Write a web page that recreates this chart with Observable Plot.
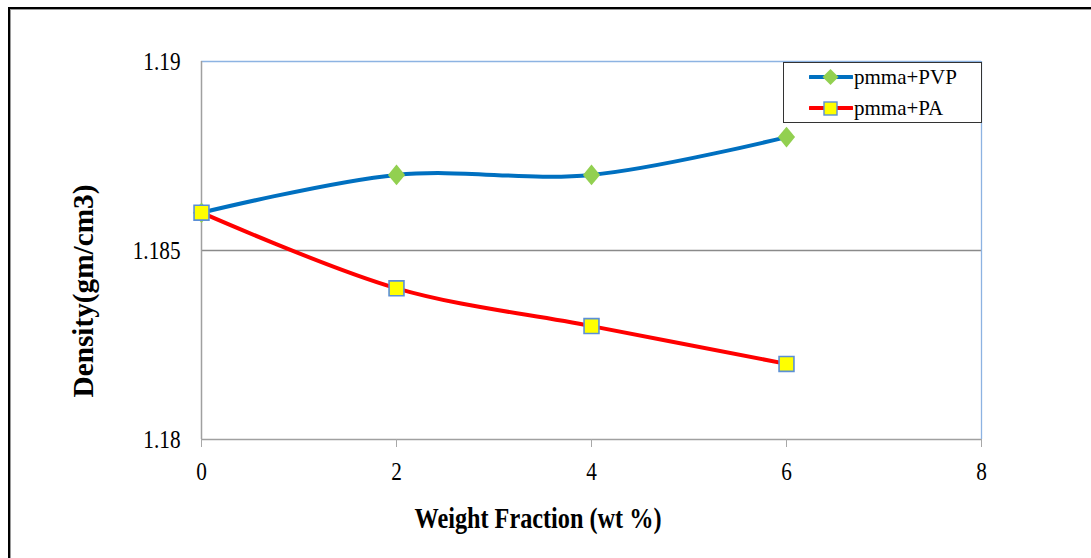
<!DOCTYPE html>
<html><head><meta charset="utf-8">
<script src="https://cdn.jsdelivr.net/npm/d3@7"></script>
<script src="https://cdn.jsdelivr.net/npm/@observablehq/plot@0.6"></script>
<style>
html,body{margin:0;padding:0;background:#fff;}
body{overflow:hidden;width:1091px;height:558px;position:relative;font-family:"Times New Roman","Liberation Serif",serif;}
#frame{position:absolute;left:8px;top:7px;width:2000px;height:2000px;border:2px solid #000;box-shadow:inset 1px 1px 0 #9a9a9a;}
#chart{position:absolute;left:0;top:0;}
#legend{position:absolute;left:783px;top:62px;width:197px;height:59px;border:1px solid #333;background:#fff;}
.lg-row{position:absolute;left:0;height:24px;display:flex;align-items:center;}
.lg-row svg{margin-left:25px;}
.lg-row span{font-family:"Times New Roman","Liberation Serif",serif;font-size:21px;color:#000;margin-left:1px;}
</style></head><body>
<div id="frame"></div>
<div id="chart"></div>
<div id="legend"></div>
<script>
// ---- data ----
const weightFraction = [0, 2, 4, 6];
const pvpDensity = [1.186, 1.187, 1.187, 1.188];
const paDensity = [1.186, 1.184, 1.183, 1.182];
const seriesNames = ["pmma+PVP", "pmma+PA"];
const xTicks = [0, 2, 4, 6, 8];
const yTicks = [1.18, 1.185, 1.19];
const yTickLabels = ["1.18", "1.185", "1.19"];
const xTitle = "Weight Fraction (wt %)";
const yTitle = "Density(gm/cm3)";

const pvpRows = weightFraction.map((w, i) => ({w, d: pvpDensity[i]}));
const paRows = weightFraction.map((w, i) => ({w, d: paDensity[i]}));

const blue = "#0070c0", red = "#ff0000", green = "#92d050", yellow = "#ffff00", markerEdge = "#5b8fd6";
const serif = "'Times New Roman','Liberation Serif',serif";

// custom diamond (slightly taller than wide)
const diamond = {
  draw(context, size) {
    const a = Math.sqrt(size / 2.4), b = 1.2 * a;
    context.moveTo(0, -b); context.lineTo(a, 0); context.lineTo(0, b); context.lineTo(-a, 0); context.closePath();
  }
};

const chart = Plot.plot({
  width: 1091, height: 558,
  marginLeft: 201, marginRight: 110, marginTop: 61, marginBottom: 119,
  style: {background: "transparent", fontFamily: serif},
  x: {domain: [0, 8]},
  y: {domain: [1.18, 1.19]},
  marks: [
    Plot.ruleY([yTicks[1]], {stroke: "#8a8a8a", strokeWidth: 1.3}),
    Plot.ruleY([yTicks[2]], {stroke: "#8db3e2", strokeWidth: 1.3}),
    Plot.ruleX([xTicks[4]], {stroke: "#8db3e2", strokeWidth: 1.3}),
    Plot.ruleX([xTicks[0]], {stroke: "#a0a0a0", strokeWidth: 1.5}),
    Plot.ruleY([yTicks[0]], {stroke: "#a0a0a0", strokeWidth: 1.5}),
    Plot.axisX({ticks: xTicks, tickSize: 8, tickPadding: 15, stroke: "#a8a8a8", fill: "#000", fontSize: 25, fontFamily: serif, label: null, tickFormat: d => String(d)}),
    Plot.axisY({ticks: yTicks, tickSize: 0, tickPadding: 21, fill: "#000", fontSize: 25, fontFamily: serif, label: null, tickFormat: d => yTickLabels[yTicks.indexOf(d)]}),
    Plot.line(pvpRows, {x: "w", y: "d", stroke: blue, strokeWidth: 4, curve: "catmull-rom"}),
    Plot.line(paRows, {x: "w", y: "d", stroke: red, strokeWidth: 4, curve: "catmull-rom"}),
    Plot.dot(pvpRows, {x: "w", y: "d", symbol: diamond, r: 7.5, fill: green, stroke: "none"}),
    Plot.dot(paRows, {x: "w", y: "d", symbol: "square", r: 8.4, fill: yellow, stroke: markerEdge, strokeWidth: 1.6})
  ]
});

const svg = d3.select(chart);
svg.selectAll("g[aria-label='x-axis tick label'] text, g[aria-label='y-axis tick label'] text")
  .each(function() {
    const t = this.getAttribute("transform") || "";
    this.setAttribute("transform", t + " scale(0.85,1)");
    this.setAttribute("font-family", serif);
  });

svg.append("text")
  .attr("transform", "translate(538,528)")
  .attr("text-anchor", "middle")
  .attr("font-family", serif)
  .attr("font-weight", "bold")
  .attr("font-size", 29)
  .attr("fill", "#000")
  .attr("textLength", 247)
  .attr("lengthAdjust", "spacingAndGlyphs")
  .text(xTitle);

svg.append("text")
  .attr("transform", "translate(93,291) rotate(-90)")
  .attr("text-anchor", "middle")
  .attr("font-family", serif)
  .attr("font-weight", "bold")
  .attr("font-size", 29)
  .attr("fill", "#000")
  .attr("textLength", 213)
  .attr("lengthAdjust", "spacingAndGlyphs")
  .text(yTitle);

document.getElementById("chart").appendChild(chart);

// ---- legend ----
const legend = document.getElementById("legend");
const items = [
  {name: seriesNames[0], color: blue, marker: `<path d="M21.5,2 L29.5,10 L21.5,18 L13.5,10 Z" fill="${green}"/>`},
  {name: seriesNames[1], color: red, marker: `<rect x="15" y="4" width="13" height="13" fill="${yellow}" stroke="${markerEdge}" stroke-width="1.4"/>`}
];
items.forEach((it, i) => {
  const row = document.createElement("div");
  row.className = "lg-row";
  row.style.top = (i === 0 ? 2 : 33) + "px";
  row.innerHTML = `<svg width="44" height="20" viewBox="0 0 44 20"><line x1="1" y1="10" x2="43" y2="10" stroke="${it.color}" stroke-width="4" stroke-linecap="round"/>${it.marker}</svg><span>${it.name}</span>`;
  legend.appendChild(row);
});
</script>
</body></html>
